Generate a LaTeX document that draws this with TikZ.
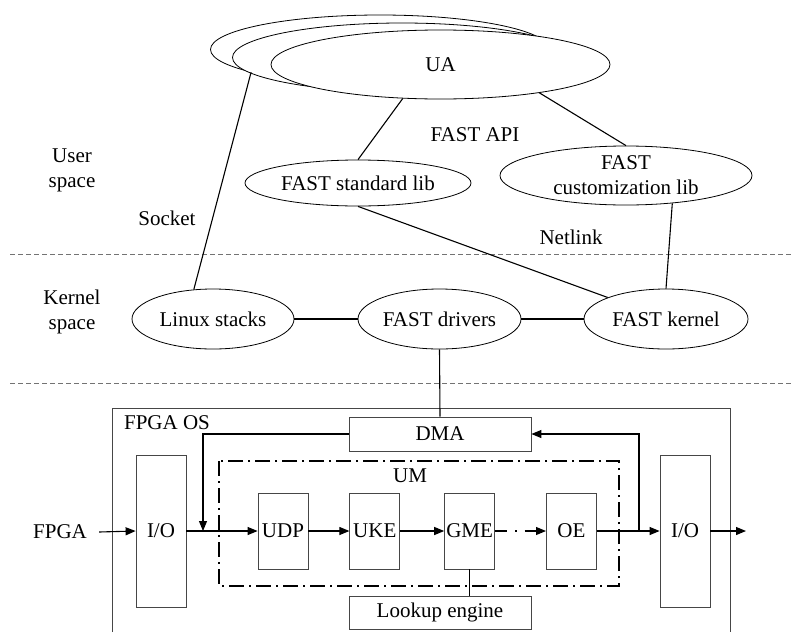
\documentclass[tikz,border=0pt]{standalone}
\usepackage{fontspec}
\setmainfont{Liberation Serif}
\usetikzlibrary{arrows.meta,positioning,shapes.geometric}
\definecolor{boxgray}{RGB}{70,70,70}
\definecolor{sepgray}{RGB}{115,115,115}

\begin{document}
\begin{tikzpicture}[x=1pt,y=-1pt,
  font=\rmfamily\fontsize{21}{25}\selectfont,
  layer/.style={ellipse,draw,fill=white,inner sep=0pt,line width=0.8pt,align=center},
  unit/.style={draw=boxgray,line width=0.8pt,minimum width=50pt,minimum height=76pt,inner sep=0pt},
  wide/.style={draw=boxgray,line width=0.8pt,minimum width=182pt,minimum height=34pt,inner sep=0pt},
  port/.style={draw=boxgray,line width=0.8pt,minimum width=50pt,minimum height=152pt,inner sep=0pt},
  txt/.style={inner sep=0pt,align=center},
  link/.style={line width=1.1pt},
  arrow/.style={-{Triangle[length=10pt,width=8pt]},line width=1.1pt},
  sep/.style={draw=sepgray,dash pattern=on 5pt off 3pt,line width=0.8pt},
  umline/.style={dash pattern=on 15pt off 5pt on 2pt off 5pt,line width=1.1pt}
]
\useasboundingbox (0,0) rectangle (794,632);
% user space
\node[layer,minimum width=339pt,minimum height=69pt] (ua3) at (380,49.5) {};
\node[layer,minimum width=339pt,minimum height=69pt] (ua2) at (402,57.5) {};
\node[layer,minimum width=339pt,minimum height=69pt] (ua) at (440.5,64.5) {UA};
\node[layer,minimum width=226pt,minimum height=46pt] (stdlib) at (358,183) {FAST standard lib};
\node[layer,minimum width=252pt,minimum height=59pt] (custlib) at (626,175.5) {FAST\\customization lib};
\node[txt] (api) at (475,135) {FAST API};
\node[txt] (socket) at (167,218) {Socket};
\node[txt] (netlink) at (571,237) {Netlink};
\node[txt] (user) at (72,170.5) {User\\space};
% kernel space
\node[layer,minimum width=162pt,minimum height=60pt] (linux) at (213,319) {Linux stacks};
\node[layer,minimum width=163pt,minimum height=60pt] (drivers) at (439.5,319) {FAST drivers};
\node[layer,minimum width=164pt,minimum height=60pt] (kernel) at (666,319) {FAST kernel};
\node[txt] (kspace) at (72,312) {Kernel\\space};
\coordinate (sepa) at (10,254);
\coordinate (sepb) at (10,383);
\draw[sep] (sepa) -- (794,254);
\draw[sep] (sepb) -- (794,383);
% FPGA OS
\draw[boxgray,line width=0.8pt] (112,632) |- (730,408) -- (730,632);
\node[txt] (fpgaos) at (167,423) {FPGA OS};
\node[wide] (dma) at (440,434) {DMA};
\node[wide,minimum height=33pt] (lookup) at (440,612.5) {Lookup engine};
\node[port] (io1) at (161,531) {I/O};
\node[port] (io2) at (685,531) {I/O};
\node[txt] (fpga) at (60,532) {FPGA};
\draw[umline] (219,461) rectangle (619,586);
\node[txt] (um) at (410,476) {UM};
\node[unit] (udp) at (283,531) {UDP};
\node[unit,right=41pt of udp] (uke) {UKE};
\node[unit,right=44pt of uke] (gme) {GME};
\node[unit,right=51pt of gme] (oe) {OE};
\coordinate (tapin) at (203,531);
\coordinate (tapout) at (639,531);
\coordinate (outend) at (746,531);

\draw[link] (ua3.-170) -- (linux.123);
\draw[link] (ua.-138) -- (stdlib.north);
\draw[link] (ua.-16) -- (custlib.north);
\draw[link] (stdlib.south) -- (kernel.north west);
\draw[link] (custlib.-31.5) -- (kernel.north);
\draw[link] (linux) -- (drivers);
\draw[link] (drivers) -- (kernel);
\draw[link] (drivers.south) -- (dma.north);
\draw[arrow] ([xshift=12pt]fpga.east) -- (io1.west);
\draw[arrow] (io1.east) -- (udp.west);
\draw[arrow] (dma.west) -| (tapin);
\draw[arrow] (udp) -- (uke);
\draw[arrow] (uke) -- (gme);
\draw[arrow,dash pattern=on 12pt off 8pt on 1.5pt off 8pt] (gme) -- (oe);
\draw[arrow] (oe.east) -- (io2.west);
\draw[arrow] (tapout) |- (dma.east);
\draw[arrow] (io2.east) -- (outend);
\draw[link] (gme.south) -- (gme.south |- lookup.north);
\end{tikzpicture}
\end{document}
